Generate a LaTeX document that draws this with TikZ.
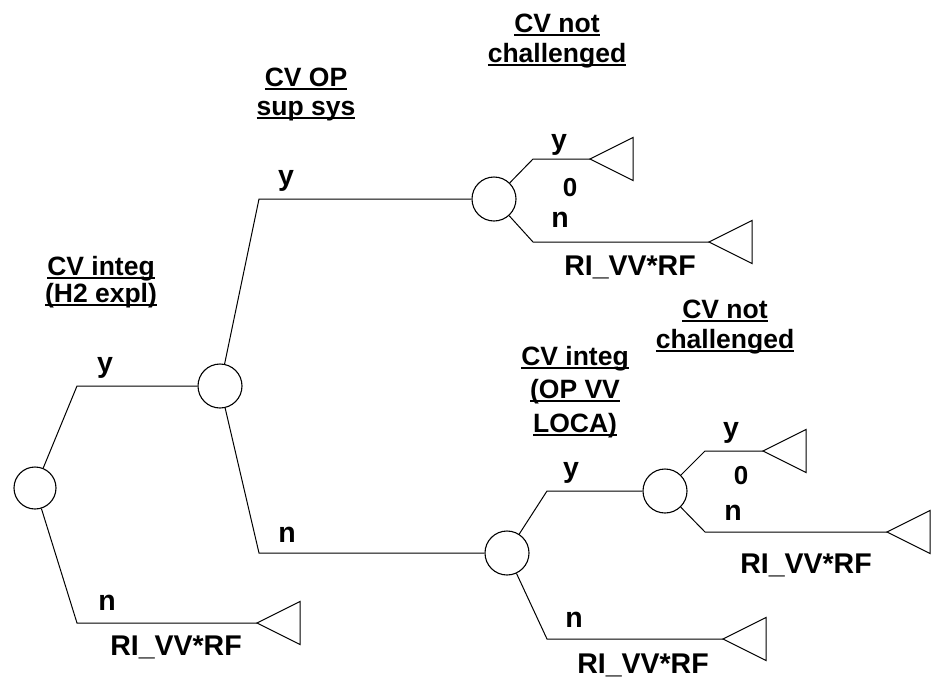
\documentclass[tikz,border=0pt]{standalone}
\usepackage{fontspec}
\setmainfont{Liberation Sans}[BoldFont={Liberation Sans Bold}]
\newcommand{\hul}[1]{\setbox0\hbox{#1}\rlap{\rule[-3.5pt]{\wd0}{1.4pt}}\box0}
\begin{document}
\begin{tikzpicture}[x=1pt,y=-1pt,
  chance/.style={circle,draw,line width=1.1pt,minimum size=44pt,inner sep=0pt},
  branch/.style={line width=1pt},
  hdr/.style={anchor=base,inner sep=0pt,font=\bfseries\fontsize{26.5}{30}\selectfont},
  lbl/.style={anchor=base,inner sep=0pt,font=\bfseries\fontsize{28.5}{30}\selectfont},
  zero/.style={anchor=base,inner sep=0pt,font=\bfseries\fontsize{26}{30}\selectfont},
  leaf/.pic={\draw[line width=1pt,line join=miter] (0,0) -- (43,-21.5) -- (43,21.5) -- cycle;}]
\useasboundingbox (0,0) rectangle (931,683);

% chance nodes
\node[chance,minimum size=42pt] (R) at (35,488) {};
\node[chance] (A) at (220,386) {};
\node[chance] (B) at (494,199) {};
\node[chance] (C) at (507,553) {};
\node[chance] (D) at (665,491) {};

% elbows and leaf tips
\coordinate (eRy) at (77,386);
\coordinate (eRn) at (77,623);
\coordinate (tRn) at (257,623);
\coordinate (eAy) at (259,199);
\coordinate (eAn) at (259,553);
\coordinate (eBy) at (533,159);
\coordinate (tBy) at (590,159);
\coordinate (eBn) at (533,242);
\coordinate (tBn) at (709,242);
\coordinate (eCy) at (547,491);
\coordinate (eCn) at (547,639);
\coordinate (tCn) at (723,639);
\coordinate (eDy) at (705,451);
\coordinate (tDy) at (763,451);
\coordinate (eDn) at (705,532);
\coordinate (tDn) at (887,532);

% branches
\draw[branch] (R) -- (eRy) -- (A);
\draw[branch] (R) -- (eRn) -- (tRn);
\draw[branch] (A) -- (eAy) -- (B);
\draw[branch] (A) -- (eAn) -- (C);
\draw[branch] (B) -- (eBy) -- (tBy);
\draw[branch] (B) -- (eBn) -- (tBn);
\draw[branch] (C) -- (eCy) -- (D);
\draw[branch] (C) -- (eCn) -- (tCn);
\draw[branch] (D) -- (eDy) -- (tDy);
\draw[branch] (D) -- (eDn) -- (tDn);

% leaves
\pic at (tRn) {leaf};
\pic at (tBy) {leaf};
\pic at (tBn) {leaf};
\pic at (tCn) {leaf};
\pic at (tDy) {leaf};
\pic at (tDn) {leaf};

% headers
\node[hdr] (hR1) at (101,275) {\hul{CV integ}};
\node[hdr] (hR2) at (101,302) {\hul{(H2 expl)}};
\node[hdr] (hA1) at (306,86) {\hul{CV OP}};
\node[hdr] (hA2) at (306,115) {\hul{sup sys}};
\node[hdr] (hB1) at (557,32) {\hul{CV not}};
\node[hdr] (hB2) at (557,62) {\hul{challenged}};
\node[hdr] (hC1) at (575,365) {\hul{CV integ}};
\node[hdr] (hC2) at (575,398) {\hul{(OP VV}};
\node[hdr] (hC3) at (575,432) {\hul{LOCA)}};
\node[hdr] (hD1) at (725,318) {\hul{CV not}};
\node[hdr] (hD2) at (725,348) {\hul{challenged}};

% branch labels
\node[lbl] (lRy) at (105,372) {y};
\node[lbl] (lRn) at (107,610) {n};
\node[lbl] (vRn) at (176,655) {RI\_VV*RF};
\node[lbl] (lAy) at (286,185) {y};
\node[lbl] (lAn) at (287,542) {n};
\node[lbl] (lBy) at (559,149) {y};
\node[zero] (vBy) at (570,196) {0};
\node[lbl] (lBn) at (560,227) {n};
\node[lbl] (vBn) at (630,275) {RI\_VV*RF};
\node[lbl] (lCy) at (571,477) {y};
\node[lbl] (lCn) at (574,627) {n};
\node[lbl] (vCn) at (643,673) {RI\_VV*RF};
\node[lbl] (lDy) at (731,437) {y};
\node[zero] (vDy) at (741,484) {0};
\node[lbl] (lDn) at (733,520) {n};
\node[lbl] (vDn) at (806,573) {RI\_VV*RF};
\end{tikzpicture}
\end{document}
